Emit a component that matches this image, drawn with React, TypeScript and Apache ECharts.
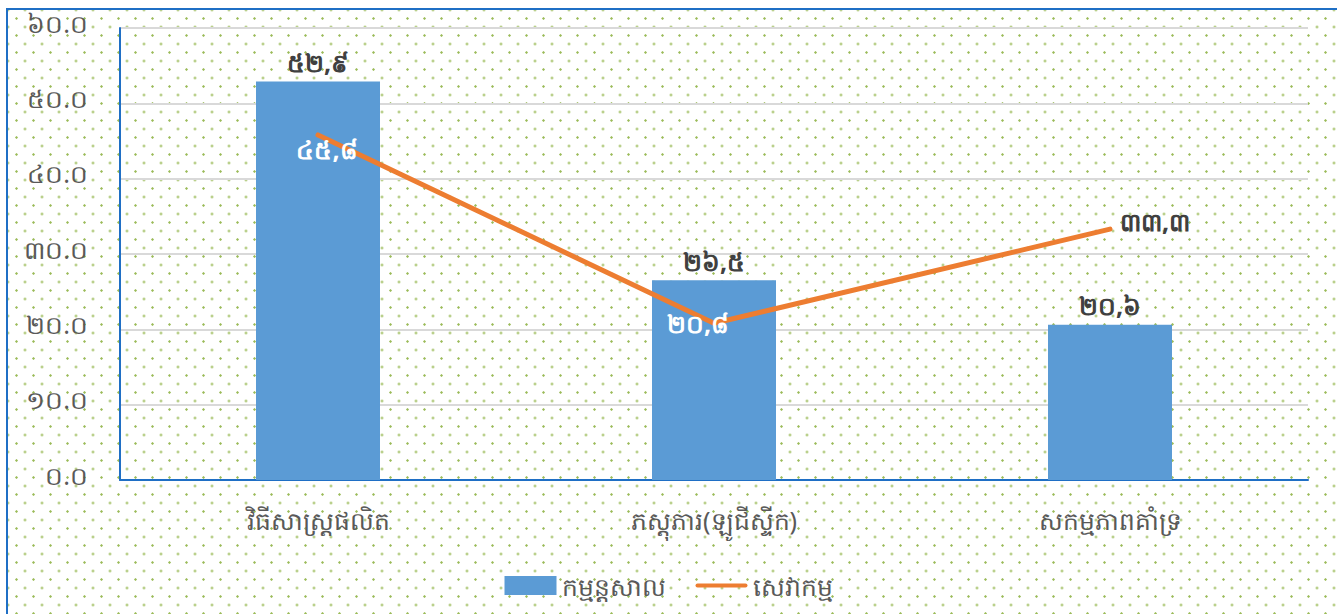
import React, { useEffect, useRef } from "react";
import * as echarts from "echarts";

const categories = ["វិធីសាស្រ្តផលិត", "ភស្តុភារ(ឡូជីស្ទីក)", "សកម្មភាពគាំទ្រ"];
const seriesNames = ["កម្មន្តសាល", "សេវាកម្ម"];
const manufacturingValues = [52.9, 26.5, 20.6];
const serviceValues = [45.8, 20.8, 33.3];
const yTickLabels = ["០.០", "១០.០", "២០.០", "៣០.០", "៤០.០", "៥០.០", "៦០.០"];

const khmerDigits = ["០", "១", "២", "៣", "៤", "៥", "៦", "៧", "៨", "៩"];
const toKhmer = (v: number) =>
  v
    .toFixed(1)
    .replace(".", ",")
    .replace(/[0-9]/g, (d) => khmerDigits[Number(d)]);

const FONT = "'Noto Sans', 'DejaVu Sans', sans-serif";

export default function App() {
  const ref = useRef<HTMLDivElement>(null);

  useEffect(() => {
    if (!ref.current) return;
    const chart = echarts.init(ref.current, undefined, { renderer: "svg" });

    const lineLabelStyles = [
      { color: "#ffffff", offset: [9, 14] },
      { color: "#ffffff", offset: [-16, 0] },
      { color: "#404040", offset: [45, -8] },
    ];

    chart.setOption({
      animation: false,
      backgroundColor: "transparent",
      textStyle: { fontFamily: FONT },
      grid: { left: 120, right: 29, top: 28, bottom: 134, containLabel: false },
      legend: {
        top: 568,
        left: "center",
        itemWidth: 52,
        itemHeight: 19,
        itemGap: 30,
        textStyle: { fontSize: 25, color: "#595959", fontFamily: FONT },
        data: [
          { name: seriesNames[0], icon: "rect" },
          {
            name: seriesNames[1],
            icon: "path://M2,0 H50 A2,2 0 0 1 50,4 H2 A2,2 0 0 1 2,0 Z",
          },
        ],
      },
      xAxis: {
        type: "category",
        data: categories,
        axisLine: { lineStyle: { color: "#1f6fc5", width: 2 } },
        axisTick: { show: false },
        axisLabel: { color: "#595959", fontSize: 25, margin: 27, fontFamily: FONT },
        splitLine: { show: false },
      },
      yAxis: {
        type: "value",
        min: 0,
        max: 60,
        interval: 10,
        axisLine: { show: true, lineStyle: { color: "#1f6fc5", width: 2 } },
        axisTick: { show: false },
        axisLabel: {
          color: "#595959",
          fontSize: 25,
          margin: 32,
          fontFamily: FONT,
          formatter: (v: number) => "{a|" + yTickLabels[Math.round(v / 10)] + "}",
          rich: {
            a: {
              fontSize: 25,
              color: "#595959",
              fontFamily: FONT,
              padding: [0, 0, 11, 0],
            },
          },
        },
        splitLine: { lineStyle: { color: "#d9d9d9", width: 2 } },
      },
      series: [
        {
          name: seriesNames[0],
          type: "bar",
          data: manufacturingValues,
          barWidth: 124,
          itemStyle: { color: "#5b9bd5" },
          label: {
            show: true,
            position: "top",
            distance: 7,
            color: "#404040",
            fontSize: 25,
            fontWeight: "bold",
            fontFamily: FONT,
            formatter: (p: any) => toKhmer(p.value),
          },
        },
        {
          name: seriesNames[1],
          type: "line",
          data: serviceValues.map((v, i) => ({
            value: v,
            label: { color: lineLabelStyles[i].color, offset: lineLabelStyles[i].offset },
          })),
          symbol: "circle",
          symbolSize: 1,
          showSymbol: true,
          itemStyle: { color: "#ed7d31" },
          lineStyle: { color: "#ed7d31", width: 5, cap: "round", join: "round" },
          label: {
            show: true,
            position: "inside",
            fontSize: 25,
            fontWeight: "bold",
            fontFamily: FONT,
            formatter: (p: any) => toKhmer(p.value),
          },
          z: 5,
        },
      ],
    });

    return () => chart.dispose();
  }, []);

  const dot = "radial-gradient(circle, #9bbb59 0.9px, rgba(155,187,89,0.25) 1.3px, rgba(155,187,89,0) 1.6px)";

  return (
    <div
      style={{
        position: "absolute",
        left: 0,
        top: 0,
        width: 1337,
        height: 614,
        overflow: "hidden",
        background: "#ffffff",
      }}
    >
      <div
        style={{
          position: "absolute",
          left: 6,
          top: 8,
          width: 1400,
          height: 700,
          borderLeft: "2px solid #1f6fc5",
          borderTop: "2px solid #1f6fc5",
          backgroundImage: `${dot}, ${dot}`,
          backgroundSize: "17px 17px, 17px 17px",
          backgroundPosition: "0px 0px, 8.5px 8.5px",
        }}
      />
      <div
        ref={ref}
        style={{ position: "absolute", left: 0, top: 0, width: 1337, height: 614 }}
      />
    </div>
  );
}
